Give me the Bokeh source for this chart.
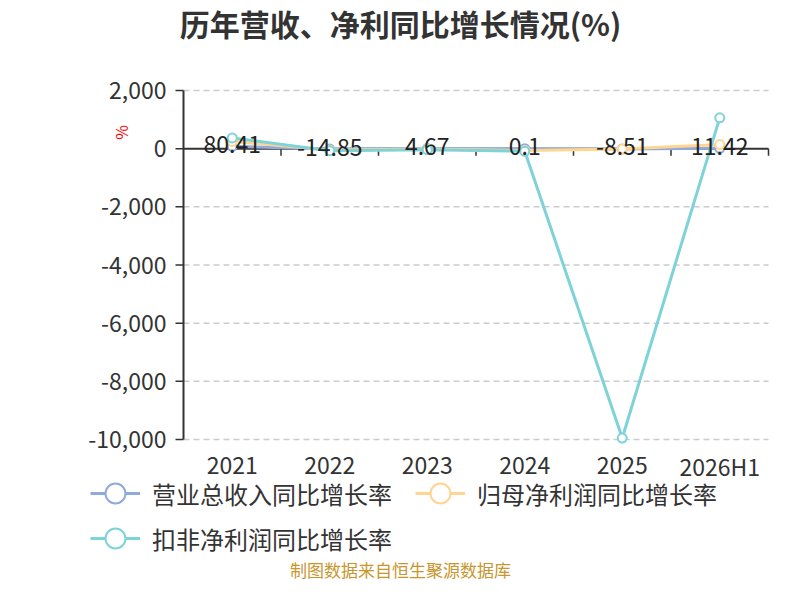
import math
from bokeh.plotting import figure
from bokeh.models import (ColumnDataSource, Range1d, LabelSet, Label, Legend, LegendItem)
from bokeh.core.properties import value
from bokeh.embed import file_html
from bokeh.resources import INLINE

# ---- data ----
years = ["2021", "2022", "2023", "2024", "2025", "2026H1"]
revenue_growth = [80.41, -14.85, 4.67, 0.1, -8.51, 11.42]
net_profit_growth = [250, -50, -15, -60, -15, 140]
deducted_profit_growth = [370, -70, -35, -90, -9950, 1060]
y_ticks = [2000, 0, -2000, -4000, -6000, -8000, -10000]
series_names = ["营业总收入同比增长率", "归母净利润同比增长率", "扣非净利润同比增长率"]

FONT = "Noto Sans CJK SC"
colors = ["#8FAADC", "#FFD591", "#7ED3D9"]
AXIS_C = "#333333"

# ---- layout (pixels inside the figure) ----
W, H = 784, 584
L, R, T, B = 183, 768, 90, 439          # plotting area
n = len(years)
ymax, ymin = max(y_ticks), min(y_ticks)
px_x = (R - L) / n                      # pixels per category
px_y = (B - T) / (ymax - ymin)          # pixels per unit

x_range = Range1d(-L / px_x, n + (W - R) / px_x)
y_range = Range1d(ymin - (H - B) / px_y, ymax + T / px_y)

xc = [i + 0.5 for i in range(n)]
src = ColumnDataSource(dict(x=xc, rev=revenue_growth, net=net_profit_growth,
                            ded=deducted_profit_growth,
                            lbl=[str(v) for v in revenue_growth],
                            cat=years, ybase=[ymin] * n))

p = figure(width=W, height=H, output_backend="svg", toolbar_location=None,
           x_range=x_range, y_range=y_range, x_axis_location=None, y_axis_location=None,
           min_border=0, min_border_left=0, min_border_right=0, min_border_top=0,
           min_border_bottom=0)
p.title = None
p.outline_line_color = None
p.grid.visible = False
p.background_fill_color = "white"
p.border_fill_color = "white"

# grid (dashed), except the zero line
grid_ticks = [t for t in y_ticks if t != 0]
p.segment(x0=[0] * len(grid_ticks), x1=[n] * len(grid_ticks), y0=grid_ticks, y1=grid_ticks,
          line_color="#cccccc", line_width=1.5, line_dash="6 4")

# y axis line, ticks and labels
p.segment(x0=[0], x1=[0], y0=[ymin], y1=[ymax], line_color=AXIS_C, line_width=2)
p.segment(x0=[0] * len(y_ticks), x1=[-8 / px_x] * len(y_ticks), y0=y_ticks, y1=y_ticks,
          line_color=AXIS_C, line_width=1.5)
ytsrc = ColumnDataSource(dict(x=[0] * len(y_ticks), y=y_ticks,
                              t=[f"{v:,}" for v in y_ticks]))
p.add_layout(LabelSet(x="x", y="y", text="t", source=ytsrc, x_offset=-17,
                      text_align="right", text_baseline="middle", text_font=value(FONT),
                      text_font_size="23px", text_color=AXIS_C))

# x axis line on zero with ticks at category boundaries
p.segment(x0=[0], x1=[n], y0=[0], y1=[0], line_color=AXIS_C, line_width=2)
bounds = list(range(1, n + 1))
p.segment(x0=bounds, x1=bounds, y0=[0] * n, y1=[-7 / px_y] * n,
          line_color=AXIS_C, line_width=1.5)
p.add_layout(LabelSet(x="x", y="ybase", text="cat", source=src, y_offset=-26,
                      text_align="center", text_baseline="middle", text_font=value(FONT),
                      text_font_size="23px", text_color=AXIS_C))

# series
items = []
for col, color, name in zip(["rev", "net", "ded"], colors, series_names):
    ln = p.line("x", col, source=src, line_color=color, line_width=3)
    sc = p.scatter("x", col, source=src, size=9, fill_color="white",
                   line_color=color, line_width=2)
    items.append(LegendItem(label=name, renderers=[ln, sc]))

p.add_layout(LabelSet(x="x", y="rev", text="lbl", source=src, text_align="center",
                      text_baseline="middle", y_offset=2, text_font=value(FONT),
                      text_font_size="23px", text_color="#222222"))

def mk_legend(its, loc):
    return Legend(items=its, location=loc, orientation="horizontal",
                  glyph_width=50, glyph_height=50, label_standoff=12, spacing=23,
                  padding=0, margin=0, border_line_color=None,
                  background_fill_alpha=0, label_text_font=FONT,
                  label_text_font_size="24px", label_text_color=AXIS_C)

p.add_layout(mk_legend(items[:2], (90, 66)))
p.add_layout(mk_legend(items[2:], (90, 21)))

# texts
p.add_layout(Label(x=400, y=562, x_units="screen", y_units="screen",
                   text="历年营收、净利同比增长情况(%)", text_align="center",
                   text_baseline="middle", text_font=FONT, text_font_size="30px",
                   text_font_style="bold", text_color=AXIS_C))
p.add_layout(Label(x=120, y=452, x_units="screen", y_units="screen",
                   text="%", text_align="center", text_baseline="middle",
                   angle=math.pi / 2, text_font=FONT, text_font_size="16px",
                   text_color="#ff0000"))
p.add_layout(Label(x=400, y=15, x_units="screen", y_units="screen",
                   text="制图数据来自恒生聚源数据库", text_align="center",
                   text_baseline="middle", text_font=FONT, text_font_size="17px",
                   text_color="#C8962D"))

open("out.html", "w").write(file_html(p, INLINE))
